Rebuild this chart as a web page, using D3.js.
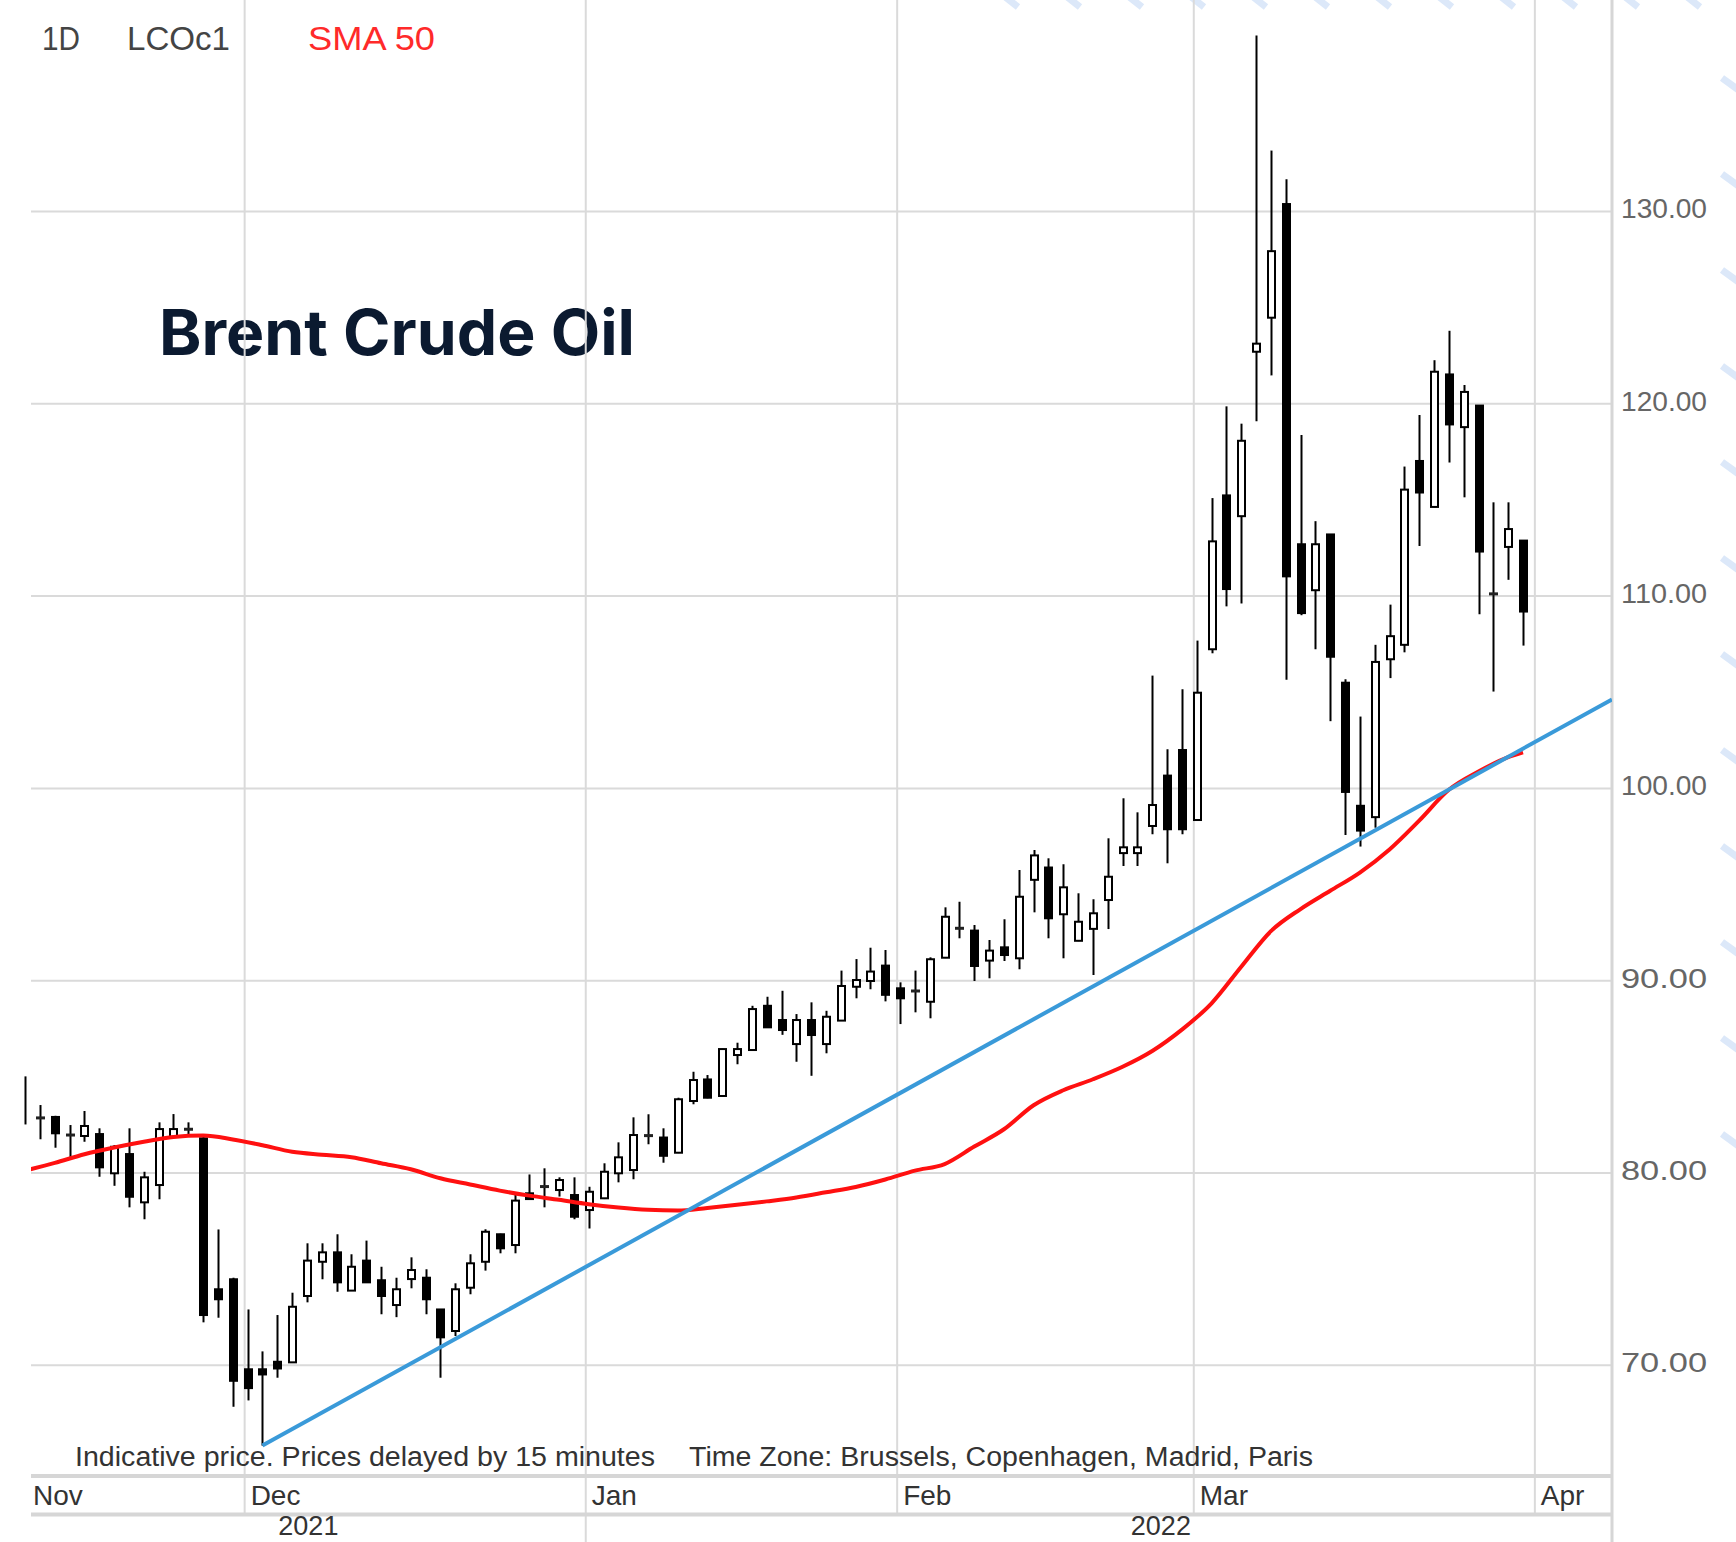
<!DOCTYPE html>
<html><head><meta charset="utf-8">
<script src="https://cdn.jsdelivr.net/npm/d3@7"></script>
<style>html,body{margin:0;padding:0;background:#fff;} svg{display:block;}</style>
</head><body>
<svg id="chart" width="1736" height="1542"></svg>
<script>
// ---------------- DATA ----------------
const dates = [
 "2021-11-10","2021-11-11","2021-11-12","2021-11-15","2021-11-16","2021-11-17","2021-11-18","2021-11-19","2021-11-22","2021-11-23","2021-11-24","2021-11-25","2021-11-26","2021-11-29","2021-11-30",
 "2021-12-01","2021-12-02","2021-12-03","2021-12-06","2021-12-07","2021-12-08","2021-12-09","2021-12-10","2021-12-13","2021-12-14","2021-12-15","2021-12-16","2021-12-17","2021-12-20","2021-12-21","2021-12-22","2021-12-23","2021-12-24","2021-12-27","2021-12-28","2021-12-29","2021-12-30","2021-12-31",
 "2022-01-03","2022-01-04","2022-01-05","2022-01-06","2022-01-07","2022-01-10","2022-01-11","2022-01-12","2022-01-13","2022-01-14","2022-01-17","2022-01-18","2022-01-19","2022-01-20","2022-01-21","2022-01-24","2022-01-25","2022-01-26","2022-01-27","2022-01-28","2022-01-31",
 "2022-02-01","2022-02-02","2022-02-03","2022-02-04","2022-02-07","2022-02-08","2022-02-09","2022-02-10","2022-02-11","2022-02-14","2022-02-15","2022-02-16","2022-02-17","2022-02-18","2022-02-21","2022-02-22","2022-02-23","2022-02-24","2022-02-25","2022-02-28",
 "2022-03-01","2022-03-02","2022-03-03","2022-03-04","2022-03-07","2022-03-08","2022-03-09","2022-03-10","2022-03-11","2022-03-14","2022-03-15","2022-03-16","2022-03-17","2022-03-18","2022-03-21","2022-03-22","2022-03-23","2022-03-24","2022-03-25","2022-03-28","2022-03-29","2022-03-30","2022-03-31"
];
const open = [
 83.70,82.84,82.89,81.95,81.90,82.00,79.96,80.96,78.45,79.35,81.86,82.25,81.78,73.93,74.45,
 69.77,69.77,70.16,70.13,73.58,75.36,75.85,73.86,75.42,74.40,73.11,74.46,74.53,72.88,71.76,74.01,75.36,76.79,76.23,78.92,79.27,79.09,78.83,
 78.05,78.66,79.96,80.13,81.92,81.82,81.03,83.72,84.84,83.98,86.11,86.37,88.67,87.93,86.68,87.93,86.68,87.90,89.66,89.96,90.76,
 89.58,89.44,88.88,91.17,92.70,92.58,91.02,91.71,91.14,95.22,95.86,93.43,92.05,92.67,94.17,96.61,96.61,98.02,100.64,101.97,
 98.33,107.21,115.21,114.13,122.68,124.45,130.36,112.67,110.28,113.18,105.47,99.07,98.48,106.69,107.44,117.00,114.61,121.50,118.76,119.88,110.09,112.53,112.86
];
const high = [
 85.00,83.51,82.95,82.47,83.20,82.30,81.43,82.30,80.04,82.61,83.04,82.61,82.00,77.04,74.53,
 72.88,70.70,72.59,73.75,76.32,76.32,76.79,75.75,76.46,75.10,74.53,75.59,74.97,72.90,74.24,75.75,77.05,76.82,78.88,79.90,80.22,79.75,79.75,
 79.26,80.48,81.57,82.87,83.03,82.30,83.89,85.24,85.07,86.44,86.75,88.67,89.14,89.45,88.24,88.85,88.41,90.50,91.10,91.69,91.57,
 89.89,90.50,91.19,93.79,94.08,92.87,92.09,93.17,95.73,96.77,96.34,96.03,94.52,94.21,97.38,99.46,98.73,105.84,102.01,105.13,
 107.66,115.07,119.84,118.94,139.12,133.14,131.65,118.35,113.87,113.20,105.65,103.71,107.44,109.53,116.71,119.39,122.24,123.77,120.95,119.90,114.85,114.85,112.88
];
const low = [
 82.50,81.73,81.29,80.69,81.60,79.78,79.31,78.19,77.57,78.61,81.80,81.90,72.21,72.45,67.82,
 68.15,65.80,69.33,70.10,73.25,74.45,73.80,73.84,74.27,72.63,72.48,73.98,72.63,69.33,71.50,73.67,74.90,75.80,75.80,78.60,78.19,78.75,77.57,
 77.09,78.62,79.49,79.65,81.47,80.51,81.01,83.55,83.86,83.96,85.63,86.35,87.53,87.16,85.76,85.03,86.20,87.88,89.06,89.53,88.90,
 87.72,88.33,88.02,91.15,92.18,89.96,90.10,91.00,90.57,93.53,92.18,91.14,92.03,90.27,92.66,95.94,95.94,97.59,96.08,97.59,
 98.31,107.00,109.44,109.59,119.07,121.45,105.62,108.98,107.21,103.47,97.55,96.95,97.93,105.71,107.05,112.58,114.59,116.92,115.11,109.03,105.01,110.82,107.40
];
const close = [
 83.70,82.84,82.04,81.95,82.42,80.27,81.34,78.74,79.75,82.26,82.26,82.25,72.59,73.41,69.17,
 68.79,69.50,69.81,73.02,75.42,75.85,74.29,75.10,74.29,73.58,73.93,74.93,73.41,71.43,73.93,75.28,76.92,76.06,78.54,78.62,79.27,79.61,77.70,
 79.00,80.04,80.79,81.95,81.92,80.87,83.81,84.81,83.89,86.42,86.42,88.50,87.55,87.41,87.93,87.15,88.10,89.70,90.01,90.45,89.24,
 89.06,89.44,91.09,93.30,92.70,90.74,91.54,91.31,94.34,96.49,93.22,94.83,93.04,93.48,95.38,96.91,96.91,99.11,97.85,97.85,
 104.95,112.82,110.34,118.05,123.10,127.91,111.00,109.09,112.67,106.82,99.79,97.78,106.55,107.89,115.51,115.36,121.64,118.90,120.59,112.29,110.09,113.46,109.17
];
// SMA 50 (trading-day index, value)
const smaIndex = [0,2,4,6,8,10,12,14,16,18,20,22,24,26,28,30,32,34,36,38,40,42,44,46,48,50,52,54,56,58,60,62,64,66,68,70,72,74,76,78,80,82,84,86,88,90,92,94,96,98,100,101];
const smaValue = [80.10,80.50,80.95,81.30,81.60,81.85,81.92,81.72,81.42,81.08,80.93,80.80,80.48,80.17,79.70,79.38,79.06,78.80,78.58,78.35,78.18,78.06,78.02,78.16,78.32,78.50,78.70,78.97,79.25,79.64,80.10,80.44,81.35,82.25,83.50,84.28,84.85,85.50,86.32,87.43,88.80,90.70,92.55,93.70,94.65,95.60,96.80,98.30,99.90,100.85,101.60,101.85];
// Trend line (blue) endpoints: trading-day index, value
const trendIndex = [16, 107];
const trendValue = [65.80, 104.60];
// Axis ticks / labels
const yTicks = [70, 80, 90, 100, 110, 120, 130];
const monthStarts = ["2021-11-01","2021-12-01","2022-01-01","2022-02-01","2022-03-01","2022-04-01"];
const monthNames = ["Nov","Dec","Jan","Feb","Mar","Apr"];
const yearStarts = ["2021-01-01","2022-01-01"];
const yearNames = ["2021","2022"];
const headerLabels = ["1D","LCOc1","SMA 50"];
const titleText = "Brent Crude Oil";
const footerTexts = ["Indicative price. Prices delayed by 15 minutes","Time Zone: Brussels, Copenhagen, Madrid, Paris"];

// ---------------- LAYOUT ----------------
const W = 1736, H = 1542;
const plot = {left: 31, right: 1612, top: 0, bottom: 1476};
const monthRowBottom = 1514.5;
const svg = d3.select("#chart");
const n = dates.length;
const step = 14.83;
const x = d3.scaleLinear().domain([0, n - 1]).range([25.17, 25.17 + step * (n - 1)]);
const y = d3.scaleLinear().domain([64.22, 140.97]).range([plot.bottom, plot.top]);
const gridColor = "#dadada";

svg.append("rect").attr("width", W).attr("height", H).attr("fill", "#fff");

// decorative light-blue slashes (background pattern at right/top)
const deco = svg.append("g").attr("stroke", "#dce8f9").attr("stroke-width", 7).attr("stroke-linecap", "butt");
d3.range(-3, 12).forEach(k => {
  const xx = 1190 + 62 * k;
  if (xx > 990 && xx < W) deco.append("line").attr("x1", xx).attr("y1", -4).attr("x2", xx + 14).attr("y2", 7);
});
d3.range(0, 12).forEach(k => {
  const yy = 78 + 96 * k;
  deco.append("line").attr("x1", 1722).attr("y1", yy).attr("x2", 1744).attr("y2", yy + 16);
});

// title (under grid lines, as in the original)
svg.append("text").attr("x", 159).attr("y", 355)
  .attr("font-family", "Inter, 'Noto Sans', sans-serif").attr("font-weight", 700).attr("font-size", 63)
  .attr("fill", "#0b1a30").attr("textLength", 476).attr("lengthAdjust", "spacingAndGlyphs")
  .text(titleText);

// month positions
const firstDate = dates[0];
const months = monthStarts.map((ms, k) => {
  let idx = dates.findIndex(d => d >= ms);
  if (idx < 0) idx = n;
  const before = ms < firstDate;
  const gx = before ? null : x(idx - 0.2);
  return {name: monthNames[k], gx, labelX: before ? plot.left + 2 : gx + 6, start: ms};
});

// horizontal grid + y labels via axis
const yAxis = d3.axisRight(y).tickValues(yTicks).tickSize(-(plot.right - plot.left)).tickPadding(9)
  .tickFormat(d3.format(".2f"));
const yg = svg.append("g").attr("transform", `translate(${plot.right},0)`).call(yAxis);
yg.select(".domain").remove();
yg.selectAll(".tick line").attr("stroke", gridColor).attr("stroke-width", 2);
yg.selectAll(".tick text").attr("font-family", "'Liberation Sans', Arial, sans-serif").attr("font-size", 28)
  .attr("fill", "#666").attr("y", -2).attr("textLength", 86).attr("lengthAdjust", "spacingAndGlyphs");

// vertical month grid lines
const vg = svg.append("g").attr("stroke", gridColor).attr("stroke-width", 2);
months.filter(m => m.gx !== null).forEach(m => {
  const isYear = m.start.endsWith("-01-01");
  vg.append("line").attr("x1", m.gx).attr("x2", m.gx).attr("y1", 0).attr("y2", isYear ? H : monthRowBottom);
});
// axis frame lines
const fg = svg.append("g").attr("stroke", "#d6d6d6");
fg.append("line").attr("x1", plot.left).attr("x2", plot.right).attr("y1", plot.bottom).attr("y2", plot.bottom).attr("stroke-width", 4);
fg.append("line").attr("x1", plot.left).attr("x2", plot.right).attr("y1", monthRowBottom).attr("y2", monthRowBottom).attr("stroke-width", 4);
fg.append("line").attr("x1", plot.right).attr("x2", plot.right).attr("y1", 0).attr("y2", H).attr("stroke-width", 3);

// clip paths
const defs = svg.append("defs");
defs.append("clipPath").attr("id", "clipC").append("rect").attr("x", 24).attr("y", 0).attr("width", plot.right - 24).attr("height", plot.bottom);
defs.append("clipPath").attr("id", "clipL").append("rect").attr("x", plot.left).attr("y", 0).attr("width", plot.right - plot.left).attr("height", plot.bottom);

// candles
const candles = svg.append("g").attr("clip-path", "url(#clipC)");
const bodyW = 7;
d3.range(n).forEach(i => {
  const cx = Math.round(x(i)) + 0.5;
  const o = open[i], c = close[i], h = high[i], l = low[i];
  const g = candles.append("g");
  g.append("line").attr("x1", cx).attr("x2", cx).attr("y1", y(h)).attr("y2", y(l))
    .attr("stroke", "#000").attr("stroke-width", 2);
  const yTop = y(Math.max(o, c)), yBot = y(Math.min(o, c));
  if (yBot - yTop < 1.5) {
    if (i > 0) {
      g.append("line").attr("x1", cx - 4.5).attr("x2", cx + 4.5).attr("y1", (yTop + yBot) / 2).attr("y2", (yTop + yBot) / 2)
        .attr("stroke", "#222").attr("stroke-width", 3);
    }
  } else {
    const up = c >= o;
    g.append("rect").attr("x", cx - bodyW / 2).attr("y", yTop).attr("width", bodyW).attr("height", yBot - yTop)
      .attr("fill", up ? "#fff" : "#000").attr("stroke", "#000").attr("stroke-width", 2);
  }
});

// SMA 50 line
const lines = svg.append("g").attr("clip-path", "url(#clipL)");
const smaPts = smaIndex.map((d, k) => [x(d), y(smaValue[k])]);
lines.append("path").attr("d", d3.line().curve(d3.curveMonotoneX)(smaPts))
  .attr("fill", "none").attr("stroke", "#ff1010").attr("stroke-width", 4);
// trend line
const trPts = trendIndex.map((d, k) => [x(d), y(trendValue[k])]);
lines.append("path").attr("d", d3.line()(trPts))
  .attr("fill", "none").attr("stroke", "#3a9ad9").attr("stroke-width", 4);

// header labels
const hdrFont = "'Liberation Sans', Arial, sans-serif";
const hdrX = [42, 127, 308];
const hdrColor = ["#444", "#444", "#ff2a2a"];
const hdrLen = [38, 103, 127];
headerLabels.forEach((t, k) => {
  svg.append("text").attr("x", hdrX[k]).attr("y", 50).attr("font-family", hdrFont).attr("font-size", 33)
    .attr("fill", hdrColor[k]).attr("textLength", hdrLen[k]).attr("lengthAdjust", "spacingAndGlyphs").text(t);
});

// footer notes
const ftX = [75, 689], ftLen = [580, 624];
footerTexts.forEach((t, k) => {
  svg.append("text").attr("x", ftX[k]).attr("y", 1466).attr("font-family", hdrFont).attr("font-size", 27)
    .attr("fill", "#333").attr("textLength", ftLen[k]).attr("lengthAdjust", "spacingAndGlyphs").text(t);
});

// month labels
months.forEach(m => {
  svg.append("text").attr("x", m.labelX).attr("y", 1505).attr("font-family", hdrFont).attr("font-size", 28)
    .attr("fill", "#333").text(m.name);
});
// year labels
yearStarts.forEach((ys, k) => {
  const mIdx = months.findIndex(m => m.start === ys);
  const left = (mIdx >= 0 && months[mIdx].gx !== null) ? months[mIdx].gx : plot.left;
  let right = W;
  if (k + 1 < yearStarts.length) {
    const nm = months.find(m => m.start === yearStarts[k + 1]);
    right = nm ? nm.gx : W;
  }
  svg.append("text").attr("x", (left + right) / 2).attr("y", 1535).attr("text-anchor", "middle")
    .attr("font-family", hdrFont).attr("font-size", 27).attr("fill", "#333").text(yearNames[k]);
});
</script>
</body></html>
